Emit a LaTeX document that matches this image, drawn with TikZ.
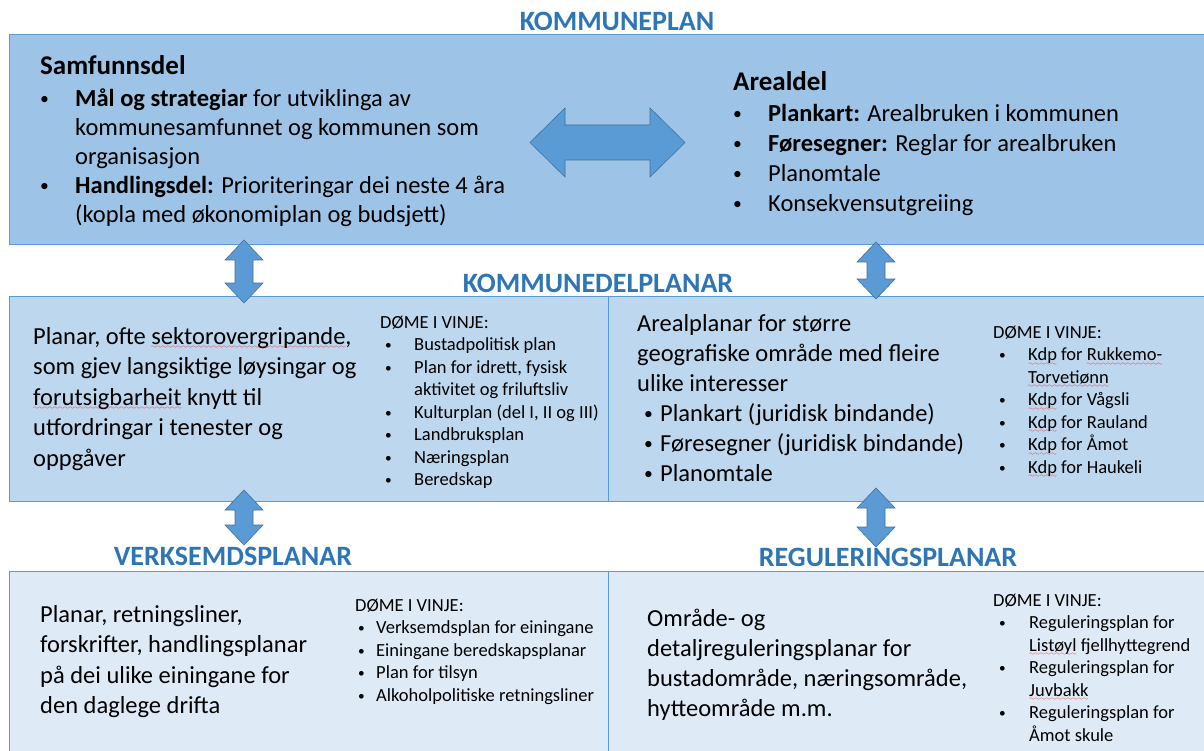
\documentclass[tikz,border=0pt]{standalone}
\usepackage{fontspec}
\setmainfont{Carlito}
\usepackage{xcolor}
\usepackage{graphicx}

\definecolor{titleblue}{HTML}{2E75B6}
\definecolor{topfill}{HTML}{9DC3E6}
\definecolor{midfill}{HTML}{BDD7EE}
\definecolor{lowfill}{HTML}{DEEBF7}
\definecolor{boxline}{HTML}{5B9BD5}
\definecolor{arrfill}{HTML}{5B9BD5}
\definecolor{arrline}{HTML}{41719C}

%% bullet box: indent, width
\newcommand\itm[2]{\makebox[#2][l]{\hspace{#1}\raisebox{0.12ex}{\scalebox{0.72}{\textbullet}}}}
%% red wavy line under a word
\font\wavefont=lasy6
\newcommand\spell[1]{\setbox0\hbox{#1}\rlap{\copy0}%
  \raisebox{-4.5pt}{\textcolor{red}{\hbox to \wd0{\xleaders\hbox{\wavefont\char58}\hfill}}}}
%% first line strut
\newcommand\tp{\rule{0pt}{18pt}}
\newcommand\tph{\rule{0pt}{20pt}}
\newcommand\ts{\rule{0pt}{14pt}}

\begin{document}
\begin{tikzpicture}[x=1pt,y=-1pt,
  big/.style={font=\fontsize{24.5}{30}\selectfont, align=left, inner sep=0pt, anchor=north west},
  small/.style={font=\fontsize{18.5}{22.5}\selectfont, align=left, inner sep=0pt, anchor=north west},
  head/.style={font=\fontsize{28}{32}\selectfont\bfseries, text=titleblue, inner sep=0pt},
  panel/.style={draw=boxline, line width=1pt},
  blockarrow/.style={fill=arrfill, draw=arrline, line width=0.6pt}]

\newcommand\vArrow[3]{%% x, top tip, bottom tip
  \draw[blockarrow] (#1,#2) -- (#1+19,#2+20) -- (#1+9,#2+20) -- (#1+9,#3-20)
  -- (#1+19,#3-20) -- (#1,#3) -- (#1-19,#3-20) -- (#1-9,#3-20)
  -- (#1-9,#2+20) -- (#1-19,#2+20) -- cycle;}
\newcommand\bigbf[1]{{\fontsize{27}{29}\selectfont\textbf{#1}}}

\useasboundingbox[fill=white] (0,0) rectangle (1204,751);

  %% boxes
  \draw[panel, fill=topfill] (9,35) rectangle (1210,245);
  \draw[panel, fill=midfill] (9,296) rectangle (608,501);
  \draw[panel, fill=midfill] (608,296) rectangle (1210,501);
  \draw[panel, fill=lowfill] (9,571) rectangle (608,760);
  \draw[panel, fill=lowfill] (608,571) rectangle (1210,760);

  %% arrows
  \draw[blockarrow] (530,142.5) -- (565,108) -- (565,125) -- (650,125)
  -- (650,108) -- (685,142.5) -- (650,177) -- (650,160) -- (565,160)
  -- (565,177) -- cycle;
  \vArrow{244}{240}{303}
  \vArrow{876}{242}{299}
  \vArrow{244}{490}{545}
  \vArrow{876}{488}{547}

  %% headings
  \node[head] (kplan) at (617,21) {KOMMUNEPLAN};
  \node[head] (kdplan) at (598,283) {KOMMUNEDELPLANAR};
  \node[head] (vplan) at (233,556) {VERKSEMDSPLANAR};
  \node[head] (rplan) at (888,557) {REGULERINGSPLANAR};

  %% kommuneplan
  \node[big, font=\fontsize{24.5}{29}\selectfont] (samf) at (40,54) {\tph\bigbf{Samfunnsdel}\\[3pt]
    \itm{0pt}{35pt}\textbf{Mål og strategiar} for utviklinga av\\
    \hspace*{35pt}kommunesamfunnet og kommunen som\\
    \hspace*{35pt}organisasjon\\
    \itm{0pt}{35pt}\textbf{Handlingsdel:} Prioriteringar dei neste 4 åra\\
    \hspace*{35pt}(kopla med økonomiplan og budsjett)};
  \node[big] (areal) at (733,70) {\tph\bigbf{Arealdel}\\[1pt]
    \itm{0pt}{35pt}\textbf{Plankart:} Arealbruken i kommunen\\
    \itm{0pt}{35pt}\textbf{Føresegner:} Reglar for arealbruken\\
    \itm{0pt}{35pt}Planomtale\\
    \itm{0pt}{35pt}Konsekvensutgreiing};

  %% kommunedelplanar
  \node[big, font=\fontsize{24.5}{30.5}\selectfont] (kdtext) at (33,326)
  {\tp Planar, ofte \spell{sektorovergripande},\\
    som gjev langsiktige løysingar og\\
    \spell{forutsigbarheit} knytt til\\
    utfordringar i tenester og\\
    oppgåver};
  \node[small] (kdex) at (380,314) {\ts DØME I VINJE:\\
    \itm{5pt}{34pt}Bustadpolitisk plan\\
    \itm{5pt}{34pt}Plan for idrett, fysisk\\
    \hspace*{34pt}aktivitet og friluftsliv\\
    \itm{5pt}{34pt}Kulturplan (del I, II og III)\\
    \itm{5pt}{34pt}Landbruksplan\\
    \itm{5pt}{34pt}Næringsplan\\
    \itm{5pt}{34pt}Beredskap};
  \node[big] (kdareal) at (637,313) {\tp Arealplanar for større\\
    geografiske område med fleire\\
    ulike interesser\\
    \itm{7pt}{23pt}Plankart (juridisk bindande)\\
    \itm{7pt}{23pt}Føresegner (juridisk bindande)\\
    \itm{7pt}{23pt}Planomtale};
  \node[small] (kdarealex) at (993,324) {\ts DØME I VINJE:\\
    \itm{6pt}{35pt}\spell{Kdp} for \spell{Rukkemo-}\\
    \hspace*{35pt}\spell{Torvetiønn}\\
    \itm{6pt}{35pt}\spell{Kdp} for Vågsli\\
    \itm{6pt}{35pt}\spell{Kdp} for Rauland\\
    \itm{6pt}{35pt}\spell{Kdp} for Åmot\\
    \itm{6pt}{35pt}\spell{Kdp} for Haukeli};

  %% verksemdsplanar
  \node[big, font=\fontsize{24.5}{30.5}\selectfont] (vtext) at (40,604)
  {\tp Planar, retningsliner,\\
    forskrifter, handlingsplanar\\
    på dei ulike einingane for\\
    den daglege drifta};
  \node[small] (vex) at (355,597) {\ts DØME I VINJE:\\
    \itm{3pt}{21pt}Verksemdsplan for einingane\\
    \itm{3pt}{21pt}Einingane beredskapsplanar\\
    \itm{3pt}{21pt}Plan for tilsyn\\
    \itm{3pt}{21pt}Alkoholpolitiske retningsliner};

  %% reguleringsplanar
  \node[big] (rtext) at (647,608) {\tp Område- og\\
    detaljreguleringsplanar for\\
    bustadområde, næringsområde,\\
    hytteområde m.m.};
  \node[small] (rex) at (993,592) {\ts DØME I VINJE:\\
    \itm{6pt}{36pt}Reguleringsplan for\\
    \hspace*{36pt}\spell{Listøyl} fjellhyttegrend\\
    \itm{6pt}{36pt}Reguleringsplan for\\
    \hspace*{36pt}\spell{Juvbakk}\\
    \itm{6pt}{36pt}Reguleringsplan for\\
    \hspace*{36pt}Åmot skule};

\end{tikzpicture}
\end{document}
